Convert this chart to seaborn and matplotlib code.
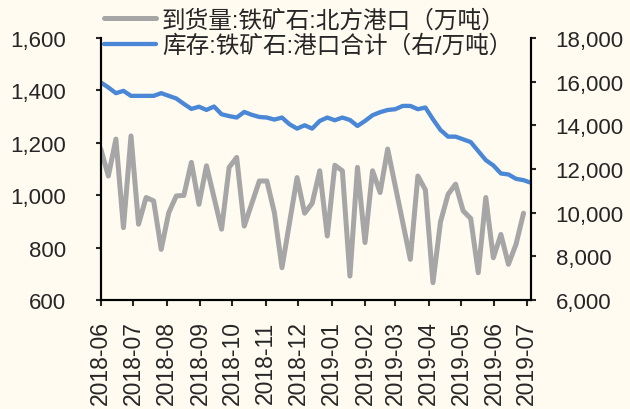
import pandas as pd
import numpy as np
import seaborn as sns
import matplotlib.pyplot as plt
import matplotlib.dates as mdates
from matplotlib.ticker import FuncFormatter

# 周度数据：到货量（北方港口，万吨）与港口库存（万吨）
semanas = pd.date_range('2018-06-01', periods=58, freq='7D')

chegada = [1176, 1073, 1214, 876, 1226, 889, 991, 978, 793, 933,
           997, 999, 1125, 965, 1112, 991, 870, 1106, 1144, 882,
           968, 1054, 1054, 933, 723, 895, 1067, 931, 969, 1093,
           844, 1114, 1093, 691, 1106, 819, 1093, 1010, 1176, 1036,
           896, 755, 1073, 1020, 666, 898, 1003, 1042, 940, 911,
           704, 991, 761, 850, 736, 812, 931]

estoque = [15963, 15733, 15471, 15577, 15347, 15347, 15347, 15347, 15471, 15347,
           15227, 14980, 14750, 14850, 14703, 14860, 14505, 14420, 14354, 14611,
           14480, 14380, 14354, 14260, 14354, 14046, 13848, 14000, 13848, 14198,
           14354, 14230, 14354, 14244, 13968, 14198, 14460, 14600, 14700, 14736,
           14887, 14887, 14736, 14814, 14276, 13784, 13480, 13480, 13356, 13232,
           12818, 12404, 12160, 11793, 11747, 11549, 11486, 11364]

nome_chegada = '到货量:铁矿石:北方港口（万吨）'
nome_estoque = '库存:铁矿石:港口合计（右/万吨）'

fundo = '#FFFBF0'
cinza = '#A6A6A6'
azul = '#4A87D6'

sns.set_style('ticks')
plt.rcParams['font.family'] = ['Liberation Sans', 'Noto Sans CJK SC', 'DejaVu Sans']

df_cheg = pd.DataFrame({'data': semanas[:len(chegada)], 'valor': chegada})
df_est = pd.DataFrame({'data': semanas, 'valor': estoque})

fig = plt.figure(figsize=(6.3, 4.1), dpi=100, facecolor=fundo)
ax = fig.add_axes([0.160, 0.266, 0.683, 0.639])
ax.set_facecolor(fundo)
ax2 = ax.twinx()

sns.lineplot(data=df_cheg, x='data', y='valor', ax=ax, color=cinza, linewidth=3.6, label=nome_chegada, legend=False)
sns.lineplot(data=df_est, x='data', y='valor', ax=ax2, color=azul, linewidth=3.1, label=nome_estoque, legend=False)

ax.set_xlim(semanas[0], semanas[-1])
ax.set_ylim(600, 1600)
ax2.set_ylim(6000, 18000)
ax.set_yticks(np.arange(600, 1601, 200))
ax2.set_yticks(np.arange(6000, 18001, 2000))
ax.yaxis.set_major_formatter(FuncFormatter(lambda v, p: f'{int(v):,}'))
ax2.yaxis.set_major_formatter(FuncFormatter(lambda v, p: f'{int(v):,}'))

ax.xaxis.set_major_locator(mdates.MonthLocator())
ax.xaxis.set_major_formatter(mdates.DateFormatter('%Y-%m'))

ax.set_xlabel('')
ax.set_ylabel('')
ax2.set_ylabel('')

for a in (ax, ax2):
    a.spines['top'].set_visible(False)
    for s in a.spines.values():
        s.set_linewidth(1.5)
        s.set_color('black')

ax.tick_params(axis='y', length=3.6, width=1.5, pad=21.5, labelsize=16)
ax2.tick_params(axis='y', length=3.6, width=1.5, pad=14, labelsize=16)
ax.tick_params(axis='x', length=4.3, width=1.5, pad=10.5, labelsize=16.5, rotation=90)
ax.grid(False)
ax2.grid(False)

linhas = ax.get_lines()[:1] + ax2.get_lines()[:1]
fig.legend(linhas, [nome_chegada, nome_estoque], loc='upper left',
           bbox_to_anchor=(0.165, 0.975), frameon=False, fontsize=17,
           handlelength=2.2, handletextpad=0.25, labelspacing=0.12,
           borderpad=0, borderaxespad=0)

fig.savefig('out.png', dpi=100, facecolor=fundo)
